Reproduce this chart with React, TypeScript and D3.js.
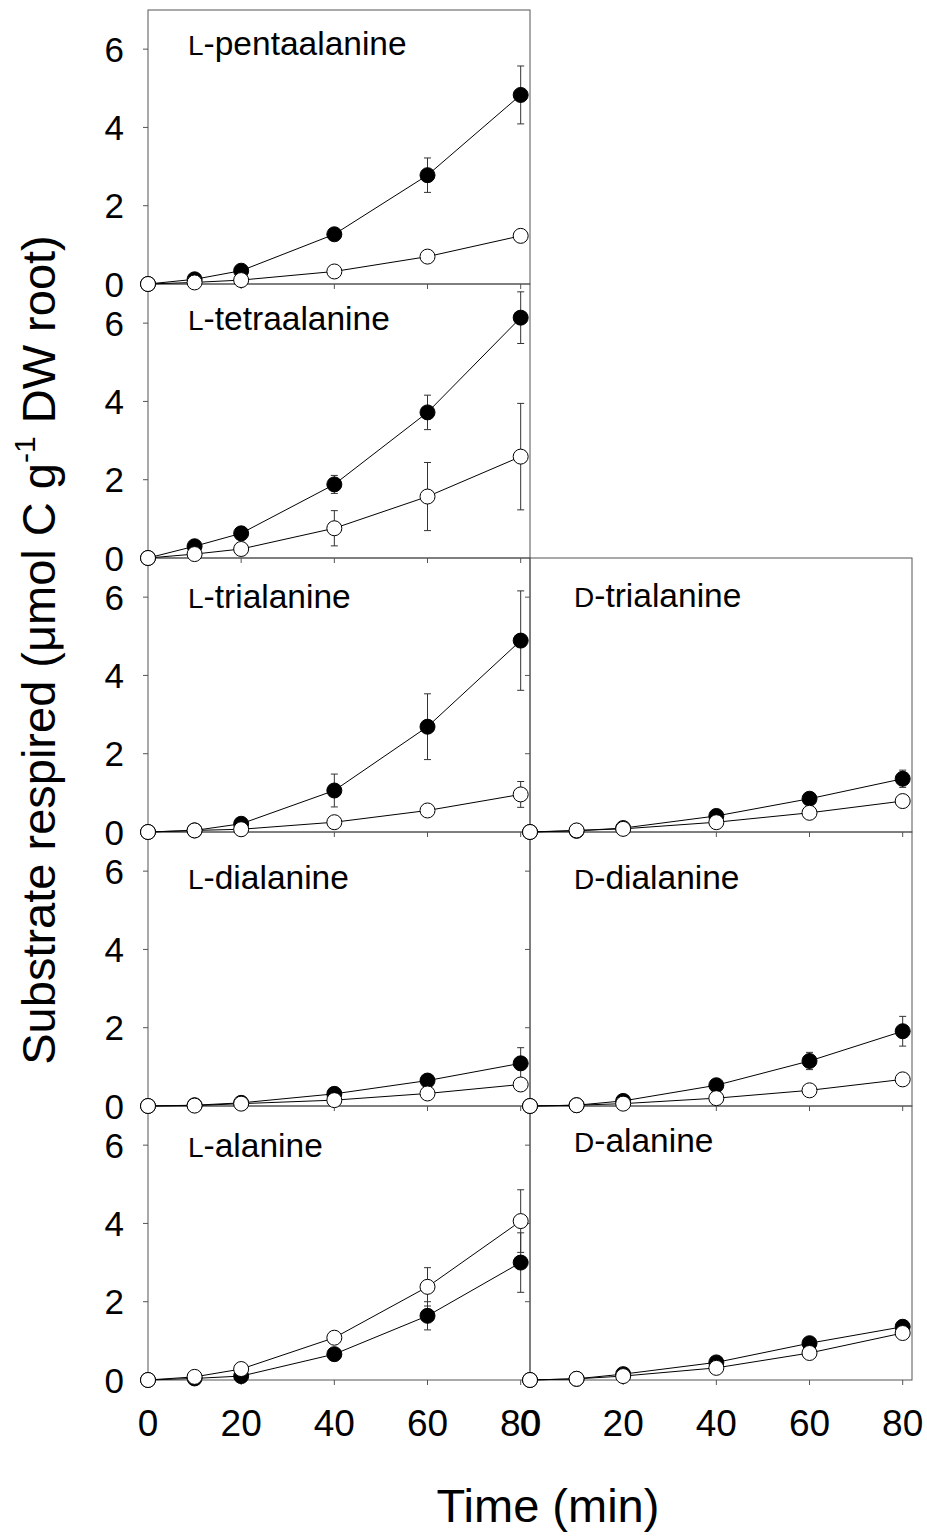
import React from "react";
import * as d3 from "d3";

// sampling times (min)
const times = [0, 10, 20, 40, 60, 80];

const panelNames = [
  "L-pentaalanine",
  "L-tetraalanine",
  "L-trialanine",
  "D-trialanine",
  "L-dialanine",
  "D-dialanine",
  "L-alanine",
  "D-alanine",
];

// filled circles
const filledMean = [
  [0, 0.12, 0.34, 1.27, 2.78, 4.83],
  [0, 0.3, 0.63, 1.88, 3.72, 6.14],
  [0, 0.04, 0.21, 1.06, 2.69, 4.89],
  [0, 0.03, 0.1, 0.41, 0.85, 1.36],
  [0, 0.02, 0.08, 0.31, 0.65, 1.09],
  [0, 0.02, 0.13, 0.53, 1.15, 1.91],
  [0, 0.04, 0.1, 0.66, 1.64, 3.0],
  [0, 0.03, 0.15, 0.45, 0.94, 1.36],
];
const filledErr = [
  [0, 0.05, 0.08, 0.12, 0.44, 0.74],
  [0, 0.05, 0.08, 0.23, 0.44, 0.66],
  [0, 0.02, 0.05, 0.42, 0.84, 1.27],
  [0, 0.02, 0.03, 0.06, 0.1, 0.22],
  [0, 0.01, 0.03, 0.08, 0.12, 0.4],
  [0, 0.01, 0.03, 0.08, 0.22, 0.38],
  [0, 0.02, 0.05, 0.1, 0.36, 0.76],
  [0, 0.02, 0.03, 0.05, 0.08, 0.1],
];

// open circles
const openMean = [
  [0, 0.04, 0.1, 0.32, 0.7, 1.23],
  [0, 0.1, 0.23, 0.76, 1.57, 2.59],
  [0, 0.04, 0.07, 0.25, 0.55, 0.96],
  [0, 0.04, 0.08, 0.25, 0.49, 0.79],
  [0, 0.01, 0.06, 0.15, 0.32, 0.55],
  [0, 0.02, 0.06, 0.2, 0.4, 0.68],
  [0, 0.08, 0.28, 1.08, 2.38, 4.06],
  [0, 0.03, 0.1, 0.31, 0.69, 1.2],
];
const openErr = [
  [0, 0.02, 0.03, 0.08, 0.1, 0.15],
  [0, 0.03, 0.06, 0.45, 0.87, 1.36],
  [0, 0.02, 0.03, 0.08, 0.1, 0.33],
  [0, 0.01, 0.02, 0.05, 0.08, 0.15],
  [0, 0.01, 0.02, 0.04, 0.08, 0.12],
  [0, 0.01, 0.02, 0.04, 0.06, 0.1],
  [0, 0.02, 0.05, 0.12, 0.49, 0.8],
  [0, 0.01, 0.02, 0.04, 0.06, 0.1],
];

const xTicks = [0, 20, 40, 60, 80];
const yTicks = [0, 2, 4, 6];

// grid slot of each panel
const panelRow = [0, 1, 2, 2, 3, 3, 4, 4];
const panelCol = [0, 0, 0, 1, 0, 1, 0, 1];
const labelDy = [45, 46, 50, 49, 57, 57, 51, 46];

const W = 927;
const H = 1537;
const FONT = "'Liberation Sans', Arial, Helvetica, sans-serif";
const colX = [148, 530];
const panelW = 382;
const top0 = 10;
const panelH = 274;
const R = 7.5;
const frameColor = "#555";

const x = d3.scaleLinear().domain([0, 82]).range([0, panelW]);
const y = d3.scaleLinear().domain([0, 7]).range([panelH, 0]);

const line = d3
  .line<number>()
  .x((_, i) => x(times[i]))
  .y((d) => y(d));

function ErrorBars({ mean, err }: { mean: number[]; err: number[] }) {
  return (
    <g stroke="#333" strokeWidth={1}>
      {mean.map((m, i) => {
        if (!err[i]) return null;
        const cx = x(times[i]);
        const y1 = y(m + err[i]);
        const y2 = y(m - err[i]);
        return (
          <g key={i}>
            <line x1={cx} x2={cx} y1={y1} y2={y2} />
            <line x1={cx - 3.5} x2={cx + 3.5} y1={y1} y2={y1} />
            <line x1={cx - 3.5} x2={cx + 3.5} y1={y2} y2={y2} />
          </g>
        );
      })}
    </g>
  );
}

function Frame({ p }: { p: number }) {
  const tx = colX[panelCol[p]];
  const ty = top0 + panelRow[p] * panelH;
  return (
    <g transform={`translate(${tx},${ty})`}>
      <rect x={0} y={0} width={panelW} height={panelH} fill="none" stroke={frameColor} strokeWidth={1} />
      {yTicks.map((t) => (
        <line key={"y" + t} x1={-5} x2={0} y1={y(t)} y2={y(t)} stroke={frameColor} />
      ))}
      {xTicks.map((t) => (
        <line key={"x" + t} x1={x(t)} x2={x(t)} y1={panelH} y2={panelH + 5} stroke={frameColor} />
      ))}
      {panelCol[p] === 0 &&
        yTicks.map((t) => (
          <text
            key={"yl" + t}
            x={-24}
            y={y(t)}
            dy="0.36em"
            textAnchor="end"
            fontSize={35}
            fontFamily={FONT}
          >
            {t}
          </text>
        ))}
      {panelRow[p] === 4 &&
        xTicks.map((t) => (
          <text
            key={"xl" + t}
            x={x(t)}
            y={panelH + 56}
            textAnchor="middle"
            fontSize={37}
            fontFamily={FONT}
          >
            {t}
          </text>
        ))}
    </g>
  );
}

function Panel({ p }: { p: number }) {
  const tx = colX[panelCol[p]];
  const ty = top0 + panelRow[p] * panelH;
  const name = panelNames[p];
  return (
    <g transform={`translate(${tx},${ty})`}>
      <text
        x={panelCol[p] === 0 ? 40 : 44}
        y={labelDy[p]}
        fontSize={33.5}
        fontFamily={FONT}
      >
        <tspan fontSize={28}>{name[0]}</tspan>
        {name.slice(1)}
      </text>
      <path d={line(filledMean[p]) || ""} fill="none" stroke="#000" strokeWidth={1} />
      <path d={line(openMean[p]) || ""} fill="none" stroke="#000" strokeWidth={1} />
      <ErrorBars mean={filledMean[p]} err={filledErr[p]} />
      <ErrorBars mean={openMean[p]} err={openErr[p]} />
      {filledMean[p].map((v, i) => (
        <circle key={"f" + i} cx={x(times[i])} cy={y(v)} r={R} fill="#000" stroke="#000" />
      ))}
      {openMean[p].map((v, i) => (
        <circle key={"o" + i} cx={x(times[i])} cy={y(v)} r={R} fill="#fff" stroke="#000" />
      ))}
    </g>
  );
}

export default function App() {
  return (
    <svg
      width={W}
      height={H}
      style={{ position: "absolute", left: 0, top: 0, background: "#fff" }}
    >
      <rect width={W} height={H} fill="#fff" />
      {panelNames.map((_, p) => (
        <Frame key={p} p={p} />
      ))}
      {panelNames.map((_, p) => (
        <Panel key={p} p={p} />
      ))}
      <text
        transform="translate(55,650) rotate(-90)"
        textAnchor="middle"
        fontSize={47}
        fontFamily={FONT}
      >
        Substrate respired (μmol C g
        <tspan fontSize={30} dy={-20}>-1</tspan>
        <tspan dy={20}> DW root)</tspan>
      </text>
      <text x={548} y={1522} textAnchor="middle" fontSize={47} fontFamily={FONT}>
        Time (min)
      </text>
    </svg>
  );
}
